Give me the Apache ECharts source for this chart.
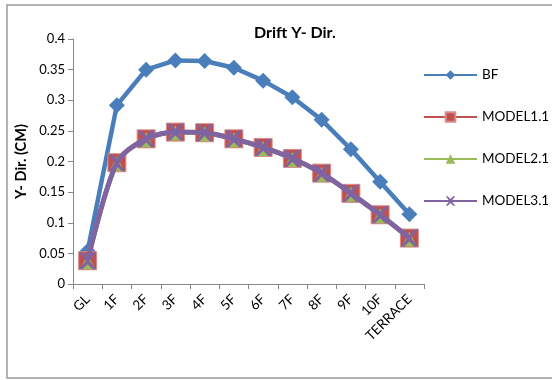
<!DOCTYPE html>
<html>
  <head>
    <meta charset="utf-8" />
    <title>Drift Y- Dir.</title>
    <script src="https://cdn.jsdelivr.net/npm/echarts@6/dist/echarts.min.js"></script>
    <style>
      * {
        padding: 0;
        margin: 0;
      }
      #chart-panel {
        width: 560px;
        height: 380px;
      }
    </style>
  </head>
  <body>
    <div id="chart-panel"></div>
    <script type="text/javascript">
      var myChart = echarts.init(document.getElementById("chart-panel"));

      // 数据
      const floors = ["GL", "1F", "2F", "3F", "4F", "5F", "6F", "7F", "8F", "9F", "10F", "TERRACE"];
      const bf = [0.054, 0.292, 0.35, 0.365, 0.364, 0.353, 0.332, 0.305, 0.268, 0.22, 0.167, 0.114];
      const model11 = [0.038, 0.198, 0.237, 0.248, 0.247, 0.237, 0.223, 0.205, 0.181, 0.148, 0.113, 0.075];
      const model21 = [0.038, 0.198, 0.237, 0.248, 0.247, 0.237, 0.223, 0.205, 0.181, 0.148, 0.113, 0.075];
      const model31 = [0.038, 0.198, 0.237, 0.248, 0.247, 0.237, 0.223, 0.205, 0.181, 0.148, 0.113, 0.075];

      const FONT = "Lato";
      const crossPath = "path://M0,0 L2,0 L5,3 L8,0 L10,0 L6,5 L10,10 L8,10 L5,7 L2,10 L0,10 L4,5 Z";

      var option = {
        animation: false,
        textStyle: { fontFamily: FONT },
        title: {
          text: "Drift Y- Dir.",
          left: 249,
          top: 20,
          textStyle: { fontSize: 16, fontWeight: "bold", color: "#000", fontFamily: FONT },
        },
        legend: {
          orient: "vertical",
          left: 418,
          top: 63,
          itemWidth: 53,
          itemHeight: 12,
          itemGap: 28,
          textStyle: { fontSize: 13.5, color: "#000", fontFamily: FONT },
          data: ["BF", "MODEL1.1", "MODEL2.1", "MODEL3.1"],
        },
        grid: { left: 73, right: 136, top: 39, bottom: 96 },
        xAxis: {
          type: "category",
          data: floors,
          boundaryGap: true,
          axisLine: { lineStyle: { color: "#888", width: 1 } },
          axisTick: { show: true, length: 5, lineStyle: { color: "#888" } },
          axisLabel: { rotate: 45, margin: 13, fontSize: 13.5, color: "#000", fontFamily: FONT },
        },
        yAxis: {
          type: "value",
          min: 0,
          max: 0.4,
          interval: 0.05,
          name: "Y- Dir. (CM)",
          nameLocation: "middle",
          nameGap: 40,
          nameTextStyle: { fontSize: 14.5, fontWeight: "bold", color: "#000", fontFamily: FONT },
          axisLine: { show: true, lineStyle: { color: "#888", width: 1 } },
          axisTick: { show: true, length: 5, lineStyle: { color: "#888" } },
          splitLine: { show: false },
          axisLabel: { fontSize: 13, color: "#000", margin: 8, fontFamily: FONT },
        },
        graphic: [
          {
            type: "polyline",
            shape: { points: [[552, 5], [7, 5], [7, 378], [552, 378]] },
            style: { stroke: "#9a9a9a", lineWidth: 1.5, fill: null },
            silent: true,
          },
        ],
        series: [
          {
            name: "BF",
            type: "line",
            data: bf,
            symbol: "diamond",
            symbolSize: 16,
            color: "#4a7ebb",
            lineStyle: { width: 4.5, color: "#4a7ebb" },
            itemStyle: { color: "#4a7ebb" },
            z: 2,
          },
          {
            name: "MODEL1.1",
            type: "line",
            data: model11,
            smooth: 0.3,
            symbol: "rect",
            symbolSize: 18,
            color: "#c0504d",
            lineStyle: { width: 4.5, color: "#c0504d" },
            itemStyle: { color: "#c0504d", borderColor: "#d98c8a", borderWidth: 1 },
            z: 3,
          },
          {
            name: "MODEL2.1",
            type: "line",
            data: model21,
            smooth: 0.3,
            symbol: "triangle",
            symbolSize: 15,
            symbolOffset: [0, 1],
            color: "#9bbb59",
            lineStyle: { width: 4.5, color: "#9bbb59" },
            itemStyle: { color: "#9bbb59" },
            z: 4,
          },
          {
            name: "MODEL3.1",
            type: "line",
            data: model31,
            smooth: 0.3,
            symbol: crossPath,
            symbolSize: 17,
            color: "#8064a2",
            lineStyle: { width: 5, color: "#8064a2" },
            itemStyle: { color: "#8064a2" },
            z: 5,
          },
        ],
      };

      if (option && typeof option === "object") {
        myChart.setOption(option);
      }
      window.addEventListener("resize", myChart.resize);
    </script>
  </body>
</html>
